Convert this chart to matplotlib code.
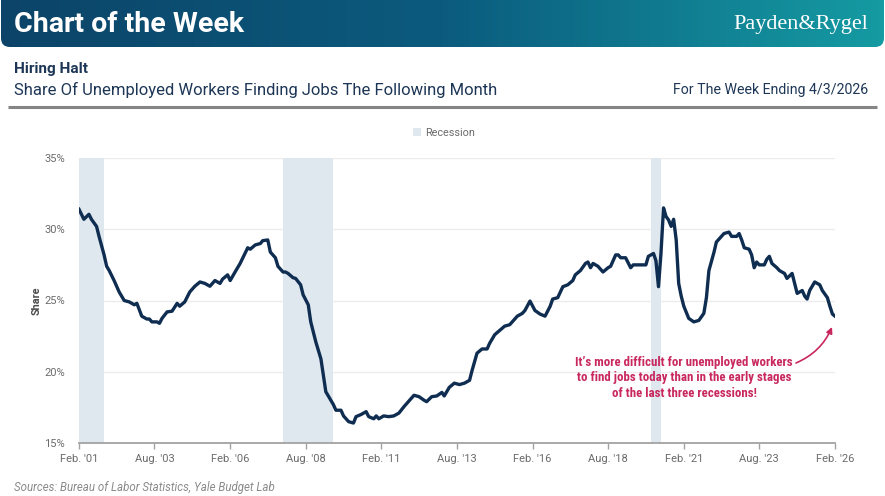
import numpy as np
import pandas as pd
import matplotlib
matplotlib.use("Agg")
import matplotlib.pyplot as plt
from matplotlib import font_manager
from matplotlib.patches import FancyBboxPatch, Patch
from matplotlib.colors import LinearSegmentedColormap

# ---------------- data ----------------
dates = [
    "2001-02", "2001-04", "2001-06", "2001-07", "2001-09", "2001-10", "2001-12",
    "2002-01", "2002-02", "2002-04", "2002-06", "2002-08", "2002-10", "2002-12",
    "2003-01", "2003-03", "2003-05", "2003-06", "2003-07", "2003-09", "2003-10", "2003-11",
    "2004-01", "2004-03", "2004-05", "2004-06", "2004-08", "2004-10", "2004-12",
    "2005-02", "2005-04", "2005-06", "2005-08", "2005-10", "2005-11",
    "2006-01", "2006-02", "2006-04", "2006-06", "2006-07", "2006-09", "2006-10", "2006-12",
    "2007-02", "2007-03", "2007-05", "2007-06", "2007-08", "2007-09", "2007-11", "2007-12",
    "2008-01", "2008-03", "2008-04", "2008-06", "2008-07", "2008-09", "2008-10", "2008-12",
    "2009-02", "2009-03", "2009-04", "2009-06", "2009-07", "2009-08", "2009-10", "2009-11",
    "2010-01", "2010-03", "2010-04", "2010-06", "2010-08", "2010-09", "2010-11", "2010-12",
    "2011-01", "2011-03", "2011-05", "2011-07", "2011-09", "2011-11",
    "2012-01", "2012-03", "2012-05", "2012-07", "2012-08", "2012-10", "2012-12",
    "2013-02", "2013-03", "2013-05", "2013-07", "2013-09", "2013-11",
    "2014-01", "2014-02", "2014-04", "2014-06", "2014-08", "2014-09", "2014-11",
    "2015-01", "2015-03", "2015-05", "2015-06", "2015-08", "2015-10", "2015-11",
    "2016-01", "2016-03", "2016-05", "2016-07", "2016-09", "2016-10", "2016-12",
    "2017-02", "2017-04", "2017-06", "2017-07", "2017-09", "2017-11", "2017-12",
    "2018-01", "2018-02", "2018-04", "2018-06", "2018-08", "2018-09", "2018-11", "2018-12",
    "2019-01", "2019-03", "2019-05", "2019-06", "2019-08", "2019-10", "2019-11", "2019-12",
    "2020-02", "2020-03", "2020-04", "2020-05", "2020-06", "2020-07", "2020-08", "2020-09",
    "2020-10", "2020-11", "2020-12",
    "2021-01", "2021-02", "2021-04", "2021-06", "2021-08", "2021-10", "2021-11", "2021-12",
    "2022-02", "2022-03", "2022-04", "2022-06", "2022-08", "2022-09", "2022-11", "2022-12",
    "2023-01", "2023-02", "2023-04", "2023-05", "2023-06", "2023-07", "2023-08", "2023-10",
    "2023-11", "2023-12",
    "2024-01", "2024-03", "2024-04", "2024-06", "2024-07", "2024-09", "2024-10", "2024-11",
    "2025-01", "2025-02", "2025-03", "2025-04", "2025-06", "2025-08", "2025-09", "2025-11",
    "2025-12", "2026-01", "2026-02",
]
share = [
    31.4, 30.7, 31.05, 30.7, 30.2, 29.5, 28.2,
    27.4, 27.1, 26.4, 25.6, 25.0, 24.9, 24.7,
    24.8, 23.9, 23.7, 23.7, 23.5, 23.5, 23.4, 23.75,
    24.2, 24.25, 24.8, 24.6, 24.9, 25.6, 26.0,
    26.3, 26.2, 26.0, 26.4, 26.2, 26.5,
    26.8, 26.4, 27.0, 27.6, 27.96, 28.7, 28.6, 28.9,
    29.0, 29.2, 29.25, 28.4, 28.0, 27.4, 27.0, 27.0,
    26.9, 26.6, 26.55, 26.1, 25.4, 24.7, 23.5, 22.1,
    20.9, 19.8, 18.6, 18.0, 17.7, 17.3, 17.3, 16.9,
    16.5, 16.4, 16.85, 17.0, 17.2, 16.85, 16.7, 16.9,
    16.7, 16.9, 16.85, 16.9, 17.1, 17.55,
    17.95, 18.35, 18.25, 18.0, 17.9, 18.25, 18.3,
    18.55, 18.3, 18.9, 19.2, 19.1, 19.2,
    19.4, 20.1, 21.3, 21.6, 21.6, 22.0, 22.6,
    22.9, 23.2, 23.3, 23.5, 23.9, 24.1, 24.3,
    24.96, 24.3, 24.05, 23.9, 24.6, 25.1, 25.2,
    25.97, 26.1, 26.4, 26.8, 27.1, 27.6, 27.7,
    27.3, 27.6, 27.4, 27.0, 27.3, 27.4, 28.2, 28.2,
    28.0, 28.0, 27.3, 27.5, 27.5, 27.5, 27.5, 28.1,
    28.3, 27.8, 25.97, 28.3, 31.5, 30.9, 30.65, 30.2,
    30.7, 29.25, 26.2,
    25.3, 24.6, 23.75, 23.5, 23.6, 24.1, 25.2, 27.1,
    28.4, 29.1, 29.3, 29.7, 29.8, 29.5, 29.5, 29.7,
    29.25, 28.7, 28.6, 28.2, 27.3, 27.7, 27.5, 27.5,
    27.9, 28.1,
    27.6, 27.3, 27.1, 26.9, 26.55, 26.9, 26.2, 25.5,
    25.7, 25.3, 25.1, 25.7, 26.3, 26.1, 25.7, 25.2,
    24.6, 24.05, 23.9,
]

recession_start = ["2001-02", "2007-11", "2020-01"]
recession_end = ["2001-12", "2009-07", "2020-05"]

x_start, x_end = "2001-02", "2026-02"
xtick_labels = ["Feb. '01", "Aug. '03", "Feb. '06", "Aug. '08", "Feb. '11", "Aug. '13",
                "Feb. '16", "Aug. '18", "Feb. '21", "Aug. '23", "Feb. '26"]
ytick_values = [15, 20, 25, 30, 35]

header_title = "Chart of the Week"
brand = "Payden&Rygel"
chart_title = "Hiring Halt"
chart_subtitle = "Share Of Unemployed Workers Finding Jobs The Following Month"
week_text = "For The Week Ending 4/3/2026"
y_label = "Share"
legend_label = "Recession"
note_text = ("It\u2019s more difficult for unemployed workers\n"
             "to find jobs today than in the early stages\n"
             "of the last three recessions!")
source_text = "Sources: Bureau of Labor Statistics, Yale Budget Lab"

# ---------------- fonts ----------------
available = {f.name for f in font_manager.fontManager.ttflist}
def pick(*names):
    for n in names:
        if n in available:
            return n
    return "DejaVu Sans"

BASE = pick("Roboto", "Lato", "DejaVu Sans")
NARROW = pick("Liberation Sans Narrow", "Roboto Condensed", "Roboto")
SERIF = pick("Liberation Serif", "DejaVu Serif")
plt.rcParams["font.family"] = [BASE, "DejaVu Sans"]

# ---------------- figure ----------------
W, H = 885, 496
fig = plt.figure(figsize=(W / 100, H / 100), dpi=100)
fig.patch.set_facecolor("white")

bg = fig.add_axes([0, 0, 1, 1], zorder=0)
bg.set_xlim(0, W)
bg.set_ylim(H, 0)
bg.axis("off")

# header banner with gradient
grad = np.linspace(0, 1, 256).reshape(1, -1)
cmap = LinearSegmentedColormap.from_list("hdr", ["#0b4468", "#0b5b7e", "#159ba2"])
im = bg.imshow(grad, extent=[0, W, 48, -2], aspect="auto", cmap=cmap, zorder=1)
box = FancyBboxPatch((1, -10), W - 2, 57, boxstyle="round,pad=0,rounding_size=9",
                     transform=bg.transData, facecolor="none", edgecolor="none")
bg.add_patch(box)
im.set_clip_path(box)

bg.text(14, 24, header_title, color="white", fontsize=20.5, fontweight="bold",
        va="center", ha="left", zorder=2)
bg.text(868, 25, brand, color="white", fontsize=16, family=SERIF,
        va="center", ha="right", zorder=2)

navy = "#1d3656"
bg.text(14, 69, chart_title, color=navy, fontsize=11, fontweight="bold",
        va="center", ha="left")
bg.text(14, 90, chart_subtitle, color=navy, fontsize=12, va="center", ha="left")
bg.text(868, 90, week_text, color=navy, fontsize=10.2, va="center", ha="right")
bg.plot([8, 877], [107, 107], color="#858585", lw=2.2, solid_capstyle="butt")

bg.text(14, 488, source_text, color="#8a8a8a", fontsize=8.3, style="italic",
        va="center", ha="left")

# ---------------- main axes ----------------
L, R, T, B = 79, 835, 158, 443
ax = fig.add_axes([L / W, 1 - B / H, (R - L) / W, (B - T) / H], zorder=1)
ax.patch.set_alpha(0)

x = pd.to_datetime(dates)
band_color = "#dfe8ef"
for s, e in zip(recession_start, recession_end):
    ax.axvspan(pd.Timestamp(s), pd.Timestamp(e), color=band_color, lw=0, zorder=1)

ax.plot(x, share, color="#0f2d50", lw=2.4, zorder=3, solid_joinstyle="round")

ax.set_xlim(pd.Timestamp(x_start), pd.Timestamp(x_end))
ax.set_ylim(ytick_values[0], ytick_values[-1])
ax.set_yticks(ytick_values)
ax.set_yticklabels([f"{v}%" for v in ytick_values])
xticks = pd.date_range(x_start + "-01", x_end + "-01", freq="30MS")
ax.set_xticks(xticks)
ax.set_xticklabels(xtick_labels)

ax.grid(axis="y", color="#ececec", lw=1, zorder=0)
ax.set_axisbelow(True)
for side in ["top", "right", "left"]:
    ax.spines[side].set_visible(False)
ax.spines["bottom"].set_color("#a3a3a3")
ax.spines["bottom"].set_linewidth(1.3)
ax.tick_params(axis="y", length=0, pad=10, labelsize=8, labelcolor="#6b6b6b")
ax.tick_params(axis="x", length=4, width=1, color="#a3a3a3", pad=4,
               labelsize=8, labelcolor="#6b6b6b")
ax.set_ylabel(y_label, fontsize=7.8, color="#4a4a4a", fontweight="bold")
ax.yaxis.set_label_coords(-(L - 42) / (R - L), 0.5)

# legend
fig.legend(handles=[Patch(facecolor=band_color, edgecolor="none", label=legend_label)],
           loc="center", bbox_to_anchor=(444 / W, 1 - 133 / H), frameon=False,
           fontsize=7.8, labelcolor="#6b6b6b", handlelength=0.7, handleheight=0.7,
           handletextpad=0.4)

# annotation
pink = "#c8285e"
ax.text(684, 378, note_text, transform=bg.transData, color=pink, fontsize=9.3,
        fontweight="bold", family=[NARROW, "DejaVu Sans"], ha="center", va="center",
        linespacing=1.22, zorder=5)
ax.annotate("", xy=(832, 327), xytext=(796, 363), xycoords=bg.transData,
            textcoords=bg.transData,
            arrowprops=dict(arrowstyle="-|>", color=pink, lw=1.2, mutation_scale=9,
                            connectionstyle="arc3,rad=0.2", shrinkA=0, shrinkB=0),
            zorder=5)

fig.savefig("out.png", dpi=100)
